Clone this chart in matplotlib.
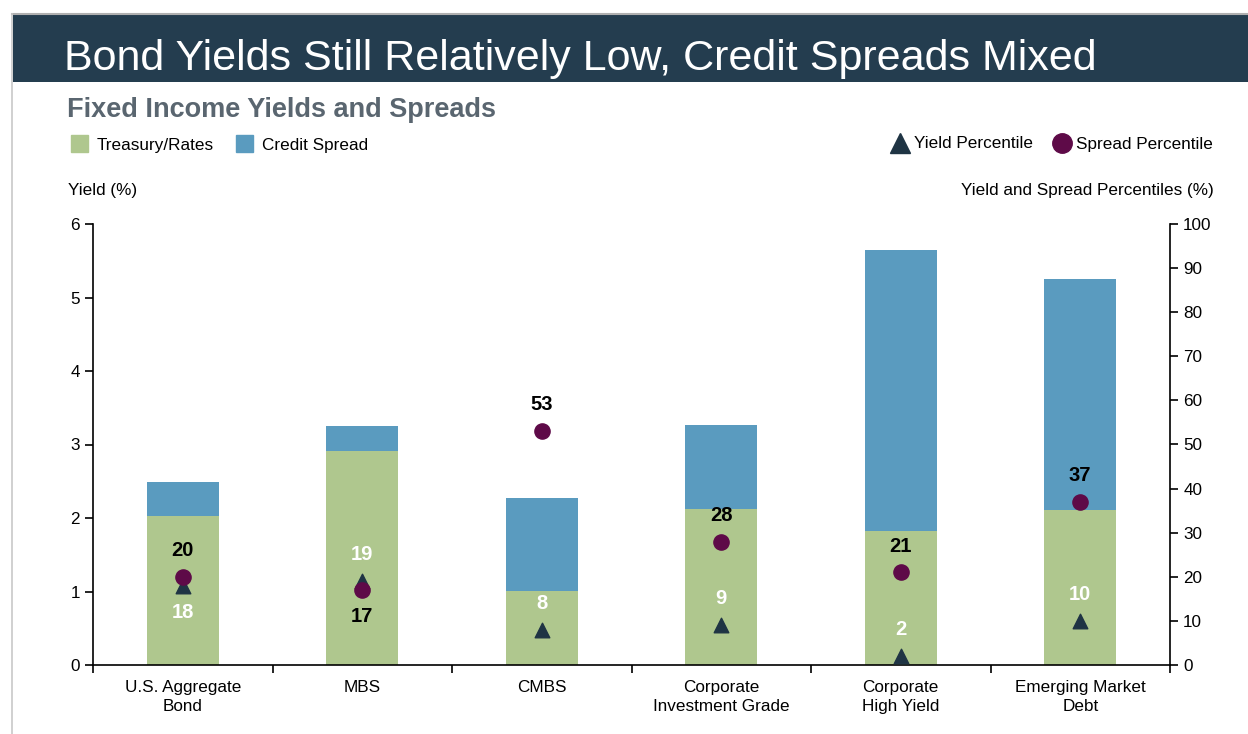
import matplotlib.pyplot as plt
import matplotlib.patches as mpatches
from matplotlib.lines import Line2D

plt.rcParams['font.family'] = ['Liberation Sans', 'DejaVu Sans']

# datos
categorias = ['U.S. Aggregate\nBond', 'MBS', 'CMBS', 'Corporate\nInvestment Grade',
              'Corporate\nHigh Yield', 'Emerging Market\nDebt']
tesoro = [2.03, 2.91, 1.01, 2.12, 1.82, 2.11]
spread = [0.46, 0.34, 1.26, 1.15, 3.83, 3.14]
pct_yield = [18, 19, 8, 9, 2, 10]
pct_spread = [20, 17, 53, 28, 21, 37]
# posicion de la etiqueta: +1 arriba, -1 abajo
pos_yield = [-1, 1, 1, 1, 1, 1]
pos_spread = [1, -1, 1, 1, 1, 1]

verde = '#AFC78E'
azul = '#5A9BBF'
navy = '#1F3444'
morado = '#5E0A48'
cabecera = '#243D4F'
fs = 12.3

fig = plt.figure(figsize=(12.48, 7.34), dpi=100)

# marco y cabecera
fig.add_artist(Line2D([12/1248, 1], [1 - 13.5/734, 1 - 13.5/734], color='#B0B0B0', lw=1.5))
fig.add_artist(Line2D([12/1248, 12/1248], [0, 1 - 13.5/734], color='#C8C8C8', lw=1.2))
fig.add_artist(mpatches.Rectangle((12.5/1248, 1 - 82/734), 1, 68/734,
                                  transform=fig.transFigure, color=cabecera, lw=0))
fig.text(64/1248, 1 - 59/734, 'Bond Yields Still Relatively Low, Credit Spreads Mixed',
         color='white', fontsize=31, va='center', ha='left')
fig.text(67/1248, 1 - 110/734, 'Fixed Income Yields and Spreads', color='#5A6670',
         fontsize=19.5, fontweight='bold', va='center', ha='left')

ax = fig.add_axes([93/1248, 1 - 665/734, (1170 - 93)/1248, (665 - 224)/734])
x = range(len(categorias))
ax.bar(x, tesoro, width=0.4, color=verde, label='Treasury/Rates')
ax.bar(x, spread, width=0.4, bottom=tesoro, color=azul, label='Credit Spread')
ax.set_xlim(-0.5, len(categorias) - 0.5)
ax.set_ylim(0, 6)
ax.set_yticks(range(0, 7))
ax.set_xticks(x)
ax.set_xticklabels(categorias, fontsize=fs, linespacing=1.3)
ax.set_xticks([i + 0.5 for i in range(-1, len(categorias))], minor=True)
ax.tick_params(axis='x', which='major', length=0, pad=11)
ax.tick_params(axis='x', which='minor', length=6, width=1.2, direction='out')
ax.tick_params(axis='y', labelsize=fs, length=6, width=1.2, direction='out')
for s in ['top', 'right']:
    ax.spines[s].set_visible(False)
for s in ['left', 'bottom']:
    ax.spines[s].set_linewidth(1.2)

ax2 = ax.twinx()
ax2.set_ylim(0, 100)
ax2.set_yticks(range(0, 101, 10))
ax2.tick_params(axis='y', labelsize=fs, length=6, width=1.2, direction='out')
for s in ['top', 'left', 'bottom']:
    ax2.spines[s].set_visible(False)
ax2.spines['right'].set_linewidth(1.2)

ax2.scatter(x, pct_yield, marker='^', s=110, color=navy, zorder=3)
ax2.scatter(x, pct_spread, marker='o', s=120, color=morado, zorder=4)

for i in x:
    ax2.annotate(str(pct_yield[i]), (i, pct_yield[i]), xytext=(0, 19 * pos_yield[i]),
                 textcoords='offset points', ha='center', va='center',
                 fontsize=14.5, fontweight='bold', color='white')
    ax2.annotate(str(pct_spread[i]), (i, pct_spread[i]), xytext=(0, 19 * pos_spread[i]),
                 textcoords='offset points', ha='center', va='center',
                 fontsize=14.5, fontweight='bold', color='black')

# leyendas y titulos de ejes
h1 = [mpatches.Patch(color=verde), mpatches.Patch(color=azul)]
fig.legend(h1, ['Treasury/Rates', 'Credit Spread'], loc='center left',
           bbox_to_anchor=(56/1248, 1 - 144/734), ncol=2, frameon=False, fontsize=fs,
           handlelength=0.95, handleheight=1.1, handletextpad=0.55, columnspacing=1.3)
h2 = [Line2D([], [], marker='^', color=navy, ls='', markersize=14),
      Line2D([], [], marker='o', color=morado, ls='', markersize=14)]
fig.legend(h2, ['Yield Percentile', 'Spread Percentile'], loc='center right',
           bbox_to_anchor=(1228/1248, 1 - 144/734), ncol=2, frameon=False, fontsize=fs,
           handlelength=1.0, handletextpad=0.3, columnspacing=1.2)
fig.text(68/1248, 1 - 190/734, 'Yield (%)', fontsize=fs, va='center', ha='left')
fig.text(1214/1248, 1 - 190/734, 'Yield and Spread Percentiles (%)', fontsize=fs,
         va='center', ha='right')

fig.savefig('out.png', dpi=100)
